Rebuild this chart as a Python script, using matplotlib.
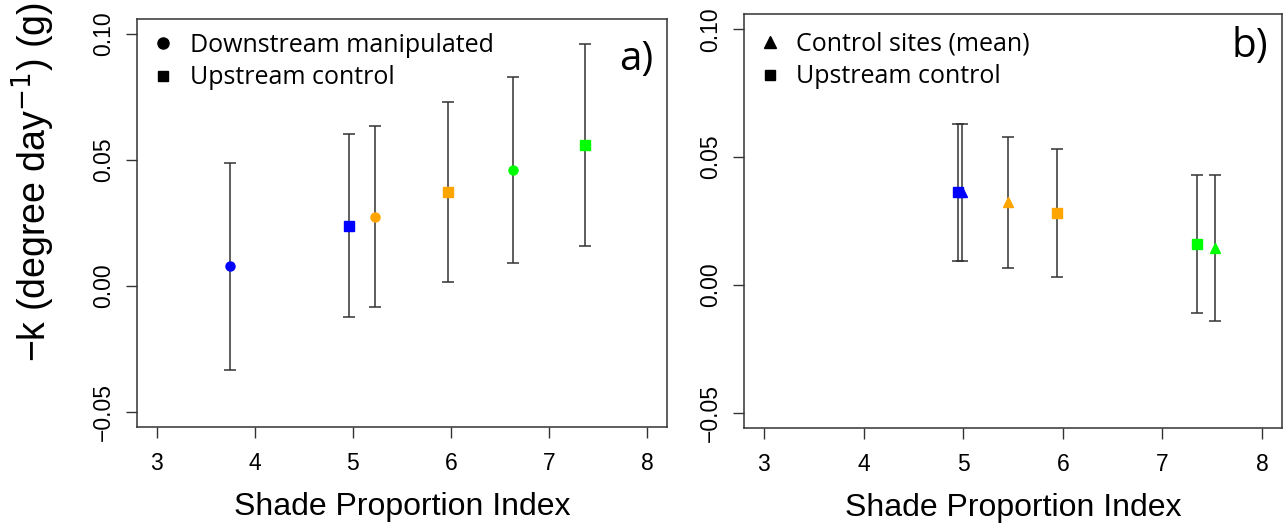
import matplotlib.pyplot as plt
from matplotlib.lines import Line2D

# panel a) data
a_x = [3.75, 4.96, 5.22, 5.97, 6.63, 7.36]
a_y = [0.0078, 0.0240, 0.0275, 0.0372, 0.0460, 0.0560]
a_lo = [-0.0335, -0.0125, -0.0085, 0.0015, 0.0090, 0.0160]
a_hi = [0.0490, 0.0605, 0.0635, 0.0730, 0.0830, 0.0960]
a_mk = ['o', 's', 'o', 's', 'o', 's']
a_col = ['blue', 'blue', 'orange', 'orange', 'lime', 'lime']

# panel b) data
b_x = [4.95, 4.99, 5.45, 5.94, 7.35, 7.53]
b_y = [0.0365, 0.0365, 0.0325, 0.0280, 0.0160, 0.0145]
b_lo = [0.0095, 0.0095, 0.0065, 0.0030, -0.0110, -0.0140]
b_hi = [0.0630, 0.0630, 0.0580, 0.0530, 0.0430, 0.0430]
b_mk = ['s', '^', '^', 's', 's', '^']
b_col = ['blue', 'blue', 'orange', 'orange', 'lime', 'lime']

xticks = [3, 4, 5, 6, 7, 8]
yticks = [-0.05, 0.00, 0.05, 0.10]
ytlabels = ['\u22120.05', '0.00', '0.05', '0.10']

tick_font = 'Liberation Sans'
leg_font = 'Open Sans'

W, H = 1287, 526
fig = plt.figure(figsize=(W/100, H/100), dpi=100)
ax_a = fig.add_axes([137/W, 1-427/H, (667-137)/W, (427-19)/H])
ax_b = fig.add_axes([744/W, 1-428/H, (1282-744)/W, (428-14)/H])


def draw_panel(ax, xs, ys, lo, hi, mks, cols):
    for x, y, l, h, m, c in zip(xs, ys, lo, hi, mks, cols):
        ax.errorbar(x, y, yerr=[[y - l], [h - y]], fmt='none', ecolor='#333333',
                    elinewidth=1.1, capsize=4.5, capthick=1.1, zorder=2)
        ax.plot(x, y, marker=m, color=c, markersize=6.5 if m != '^' else 7.5,
                linestyle='none', zorder=3)
    ax.set_xlim(2.8, 8.2)
    ax.set_ylim(-0.056, 0.106)
    ax.set_xticks(xticks)
    ax.set_xticklabels([str(t) for t in xticks], fontsize=16.5, family=tick_font)
    ax.set_yticks(yticks)
    ax.set_yticklabels(ytlabels, fontsize=16.5, family=tick_font, rotation=90, va='center')
    ax.tick_params(axis='both', length=8, width=1, color='#333333')
    ax.tick_params(axis='x', pad=10)
    ax.tick_params(axis='y', pad=8)
    for s in ax.spines.values():
        s.set_linewidth(1.1)
        s.set_color('#333333')
    # x label centred about 80 px below the bottom of the box
    ax.set_xlabel('Shade Proportion Index', fontsize=23, family=tick_font, va='center')
    ax.xaxis.set_label_coords(0.5, -80 / (ax.get_position().height * H))


draw_panel(ax_a, a_x, a_y, a_lo, a_hi, a_mk, a_col)
draw_panel(ax_b, b_x, b_y, b_lo, b_hi, b_mk, b_col)

fig.text(33/W, 1-182/H, '\u2212k (degree day$^{-1}$) (g)', fontsize=27, family=tick_font,
         rotation=90, ha='center', va='center')

ha = [Line2D([], [], marker='o', color='black', linestyle='none', markersize=8),
      Line2D([], [], marker='s', color='black', linestyle='none', markersize=7)]
ax_a.legend(ha, ['Downstream manipulated', 'Upstream control'], loc='upper left',
            frameon=False, prop={'family': leg_font, 'size': 18}, handlelength=1,
            handletextpad=0.55, labelspacing=0.3, borderaxespad=0.15)
hb = [Line2D([], [], marker='^', color='black', linestyle='none', markersize=9),
      Line2D([], [], marker='s', color='black', linestyle='none', markersize=7)]
ax_b.legend(hb, ['Control sites (mean)', 'Upstream control'], loc='upper left',
            bbox_to_anchor=(0.0, 0.99), frameon=False,
            prop={'family': leg_font, 'size': 18}, handlelength=1,
            handletextpad=0.55, labelspacing=0.3, borderaxespad=0.15)

ax_a.text(0.975, 0.95, 'a)', transform=ax_a.transAxes, ha='right', va='top',
          fontsize=29, family=leg_font)
ax_b.text(0.975, 0.97, 'b)', transform=ax_b.transAxes, ha='right', va='top',
          fontsize=29, family=leg_font)

fig.savefig('out.png', dpi=100)
